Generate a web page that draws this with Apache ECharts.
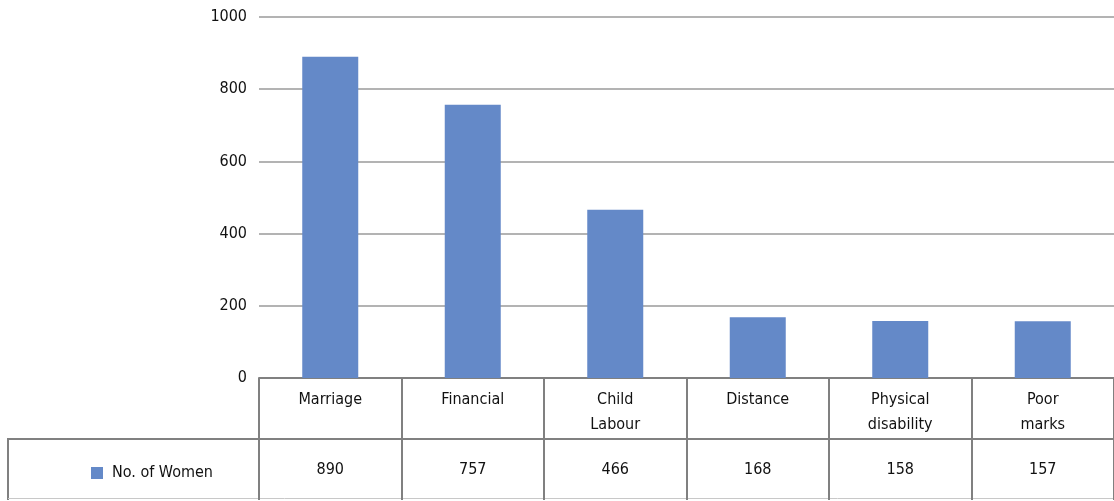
<!DOCTYPE html>
<html>
<head>
<meta charset="utf-8">
<script src="https://cdn.jsdelivr.net/npm/echarts@6/dist/echarts.min.js"></script>
<style>
  html, body { margin: 0; padding: 0; background: #fff; }
  #chart { width: 1114px; height: 501px; }
</style>
</head>
<body>
<div id="chart"></div>
<script>
// Reasons for dropping out of school, number of women
const categories = ['Marriage', 'Financial', 'Child\nLabour', 'Distance', 'Physical\ndisability', 'Poor\nmarks'];
const womenCounts = [890, 757, 466, 168, 158, 157];
const seriesName = 'No. of Women';
const yTicks = { min: 0, max: 1000, step: 200 };

const FONT = '"Liberation Sans Narrow", "Arial Narrow", "DejaVu Sans Condensed", sans-serif';
const BORDER = '#808080';
const BAR = '#6489c8';
const FS = 16;

const chart = echarts.init(document.getElementById('chart'), null, { renderer: 'canvas' });

const GRID = { left: 259, top: 17, width: 858, height: 361 };
const ROW = 61;

chart.setOption({
  animation: false,
  textStyle: { fontFamily: FONT },
  grid: GRID,
  legend: {
    data: [seriesName],
    left: 86,
    top: 460,
    icon: 'rect',
    itemWidth: 12,
    itemHeight: 12,
    textStyle: { fontFamily: FONT, fontSize: FS, color: '#111', padding: [0, 0, 0, 4] }
  },
  xAxis: [
    {
      type: 'category',
      data: categories,
      position: 'bottom',
      axisLine: { show: true, lineStyle: { color: BORDER, width: 2 } },
      axisTick: { show: true, length: ROW * 2, lineStyle: { color: BORDER, width: 2 } },
      axisLabel: {
        interval: 0, margin: 9, fontFamily: FONT, fontSize: FS,
        lineHeight: 25, color: '#111'
      },
      splitLine: { show: false }
    },
    {
      type: 'category',
      data: categories,
      position: 'bottom',
      offset: ROW,
      axisLine: { show: true, lineStyle: { color: BORDER, width: 2 } },
      axisTick: { show: false },
      axisLabel: {
        interval: 0, margin: 23, fontFamily: FONT, fontSize: FS, color: '#111',
        formatter: (v, i) => String(womenCounts[i])
      },
      splitLine: { show: false }
    }
  ],
  yAxis: {
    type: 'value',
    min: yTicks.min,
    max: yTicks.max,
    interval: yTicks.step,
    axisLine: { show: false },
    axisTick: { show: false },
    axisLabel: {
      margin: 12, fontFamily: FONT, fontSize: FS, color: '#111',
      formatter: (v) => String(v)
    },
    splitLine: { show: true, lineStyle: { color: '#b3b3b3', width: 2 } }
  },
  series: [
    {
      name: seriesName,
      type: 'bar',
      xAxisIndex: 0,
      data: womenCounts,
      barWidth: 56,
      itemStyle: { color: BAR }
    }
  ]
});

// Legend cell of the data table, to the left of the value row
const rowTop = GRID.top + GRID.height + ROW;
const bottom = rowTop + ROW;
chart.setOption({
  graphic: [
    {
      type: 'polyline',
      shape: { points: [[GRID.left, rowTop], [8, rowTop], [8, bottom]] },
      style: { stroke: BORDER, lineWidth: 2, fill: null }
    },
    {
      type: 'line',
      shape: { x1: 8, y1: bottom - 1.5, x2: 1114, y2: bottom - 1.5 },
      style: { stroke: '#c8c8c8', lineWidth: 1 }
    }
  ]
});
</script>
</body>
</html>
